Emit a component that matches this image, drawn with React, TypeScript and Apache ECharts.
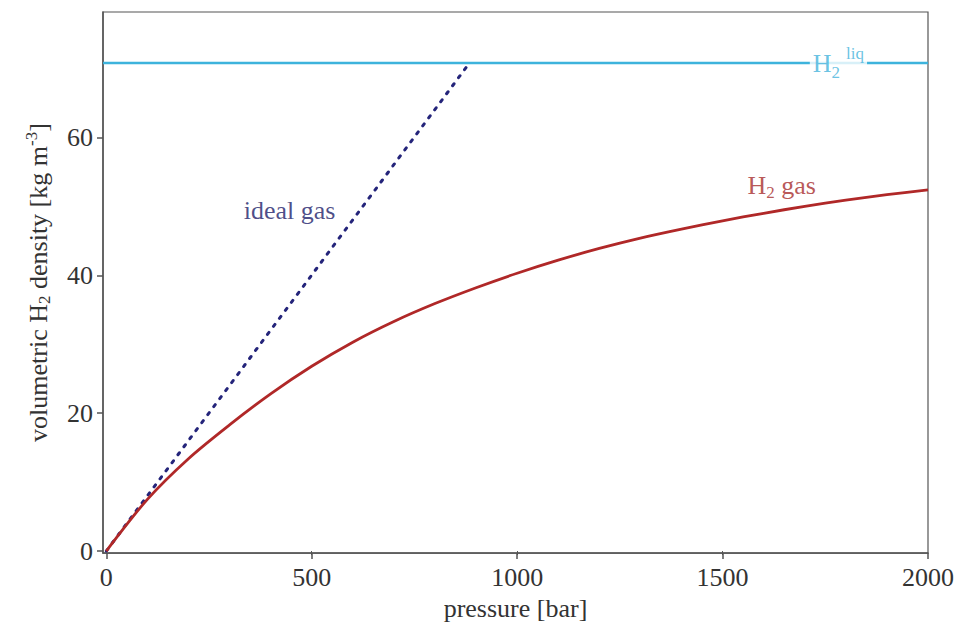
import React, { useEffect, useRef } from "react";
import * as echarts from "echarts";

const pressure = [0, 100, 200, 300, 400, 500, 600, 700, 800, 900, 1000, 1100, 1200, 1300, 1400, 1500, 1600, 1700, 1800, 1900, 2000];
const h2GasDensity = [0, 7.5, 13.4, 18.3, 22.8, 26.8, 30.3, 33.3, 35.9, 38.2, 40.3, 42.2, 43.9, 45.4, 46.7, 47.9, 49.0, 50.0, 50.9, 51.7, 52.4];
const idealGas = [[0, 0], [884, 70.8]];
const liquidDensity = 70.8;
const xTicks = [0, 500, 1000, 1500, 2000];
const yTicks = [0, 20, 40, 60];
const labelIdeal = [446, 49.4];
const labelGas = [1644, 53.0];
const labelLiq = [1782, 70.8];

const FONT = "Liberation Serif";
const FS = 26;
const SUB = 17;

export default function App() {
  const ref = useRef<HTMLDivElement>(null);
  useEffect(() => {
    if (!ref.current) return;
    const chart = echarts.init(ref.current, undefined, { renderer: "svg" });
    const axisColor = "#555";
    chart.setOption({
      animation: false,
      backgroundColor: "#fff",
      grid: { left: 103, right: 27, top: 12, bottom: 68, show: true, borderColor: axisColor, borderWidth: 1.2 },
      xAxis: [
        {
          type: "value",
          min: -8,
          max: 2000,
          name: "pressure [bar]",
          nameLocation: "middle",
          nameGap: 32,
          nameTextStyle: { fontFamily: FONT, fontSize: FS, color: "#333" },
          axisLine: { show: true, onZero: false, lineStyle: { color: axisColor, width: 1.5 } },
          axisTick: { show: true, length: 6, lineStyle: { color: axisColor, width: 1.5 }, customValues: xTicks },
          axisLabel: { fontFamily: FONT, fontSize: FS, color: "#333", margin: 11, customValues: xTicks, formatter: (v: number) => String(v) },
          splitLine: { show: false },
        },
        {
          type: "value",
          position: "top",
          min: -8,
          max: 2000,
          axisLine: { show: false },
          axisTick: { show: true, inside: true, length: 4, lineStyle: { color: axisColor }, customValues: [500, 1000, 1500] },
          axisLabel: { show: false },
          splitLine: { show: false },
        },
      ],
      yAxis: {
        type: "value",
        min: -0.3,
        max: 78.2,
        name: "{a|volumetric H}{sub|2}{a| density [kg m}{sup|-3}{a|]}",
        nameLocation: "middle",
        nameGap: 50,
        nameTextStyle: {
          fontFamily: FONT,
          color: "#333",
          rich: {
            a: { fontFamily: FONT, fontSize: FS, color: "#333", lineHeight: 30 },
            sub: { fontFamily: FONT, fontSize: SUB, color: "#333", verticalAlign: "bottom", lineHeight: 17 },
            sup: { fontFamily: FONT, fontSize: SUB, color: "#333", verticalAlign: "top", lineHeight: 17 },
          },
        },
        axisLine: { show: true, onZero: false, lineStyle: { color: axisColor, width: 1.5 } },
        axisTick: { show: true, length: 6, lineStyle: { color: axisColor, width: 1.5 }, customValues: yTicks },
        axisLabel: { fontFamily: FONT, fontSize: FS, color: "#333", margin: 10, customValues: yTicks },
        splitLine: { show: false },
      },
      series: [
        {
          type: "line",
          data: [[-8, liquidDensity], [2000, liquidDensity]],
          symbol: "none",
          lineStyle: { color: "#3db3dc", width: 2.5 },
          z: 2,
        },
        {
          type: "line",
          data: idealGas,
          symbol: "none",
          lineStyle: { color: "#24247a", width: 3, type: [2.5, 7.5], cap: "round" },
          z: 3,
        },
        {
          type: "line",
          data: pressure.map((p, i) => [p, h2GasDensity[i]]),
          symbol: "none",
          smooth: 0.3,
          lineStyle: { color: "#b02828", width: 2.8 },
          z: 4,
        },
        {
          type: "scatter",
          symbolSize: 0,
          z: 10,
          silent: true,
          data: [
            {
              value: labelIdeal,
              label: {
                show: true,
                position: "inside",
                formatter: "ideal gas",
                fontFamily: FONT,
                fontSize: FS,
                color: "#1e1e6a",
              },
            },
            {
              value: labelGas,
              label: {
                show: true,
                position: "inside",
                formatter: "{a|H}{sub|2}{a| gas}",
                rich: {
                  a: { fontFamily: FONT, fontSize: FS, color: "#a62c2c", lineHeight: 30 },
                  sub: { fontFamily: FONT, fontSize: SUB, color: "#a62c2c", verticalAlign: "bottom", lineHeight: 17 },
                },
              },
            },
            {
              value: labelLiq,
              label: {
                show: true,
                position: "inside",
                formatter: "{a|H}{sub|2}{sup|liq}",
                backgroundColor: "#fff",
                padding: [0, 3, 0, 3],
                rich: {
                  a: { fontFamily: FONT, fontSize: FS, color: "#45b3dc", lineHeight: 36 },
                  sub: { fontFamily: FONT, fontSize: SUB, color: "#45b3dc", verticalAlign: "bottom", lineHeight: 17 },
                  sup: { fontFamily: FONT, fontSize: SUB, color: "#45b3dc", verticalAlign: "top", lineHeight: 17, padding: [0, 0, 0, 6] },
                },
              },
            },
          ],
        },
      ],
    });
    return () => chart.dispose();
  }, []);
  return <div ref={ref} style={{ position: "fixed", left: 0, top: 0, width: 957, height: 626 }} />;
}
